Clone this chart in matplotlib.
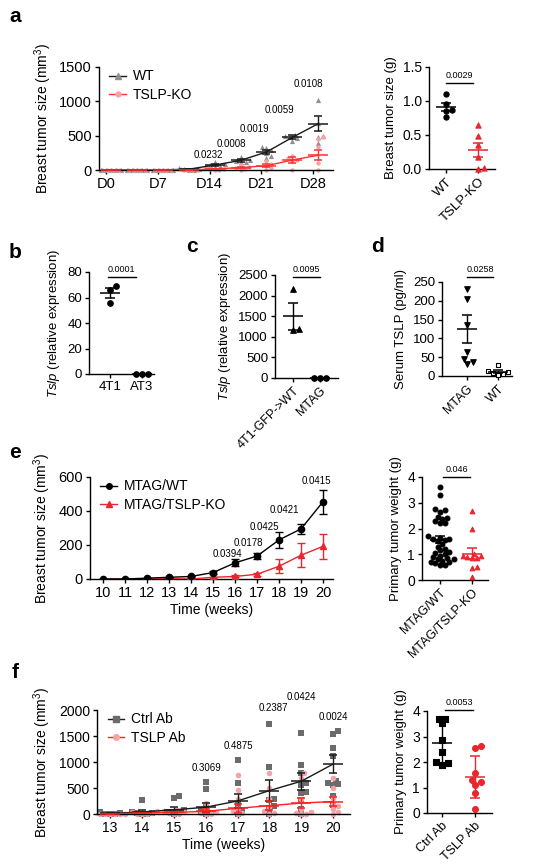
import numpy as np
import matplotlib.pyplot as plt
from matplotlib.lines import Line2D

plt.rcParams['font.family'] = ['Liberation Sans', 'DejaVu Sans']
plt.rcParams['mathtext.fontset'] = 'custom'
plt.rcParams['mathtext.rm'] = 'Liberation Sans'
plt.rcParams['mathtext.it'] = 'Liberation Sans:italic'
plt.rcParams['axes.linewidth'] = 1.0

W, H = 542, 866

### data
# a - tumor growth (measured every 3.5 days)
a_ticklabels = ['D0', 'D7', 'D14', 'D21', 'D28']
a_wt_mean = [0, 0, 2, 12, 72, 140, 262, 475, 675]
a_wt_err = [0, 0, 1, 5, 15, 18, 35, 30, 105]
a_ko_mean = [0, 0, 0, 2, 15, 35, 62, 145, 215]
a_ko_err = [0, 0, 0, 1, 6, 10, 20, 45, 70]
a_wt_pts = [[0, 0, 0, 0, 0], [0, 0, 0, 0, 0], [5, 0, 0, 0, 0],
            [25, 15, 10, 5, 0], [110, 85, 70, 55, 40], [185, 150, 130, 115, 110],
            [335, 320, 290, 250, 200, 180], [515, 500, 480, 460, 420],
            [1025, 680, 500, 480, 400]]
a_ko_pts = [[0, 0, 0, 0, 0], [0, 0, 0, 0, 0], [0, 0, 0, 0, 0],
            [10, 0, 0, 0, 0], [40, 20, 10, 5, 0], [70, 50, 30, 20, 5],
            [130, 90, 60, 30, 0], [210, 170, 150, 130, 0],
            [480, 450, 330, 100, 0]]
a_pvals = ['0.0232', '0.0008', '0.0019', '0.0059', '0.0108']
a_pval_x = [3.94, 4.86, 5.75, 6.7, 7.8]
a_pval_y = [218, 377, 590, 871, 1248]

# a right - tumor weight
a2_groups = ['WT', 'TSLP-KO']
a2_wt = [1.10, 0.95, 0.87, 0.86, 0.77]
a2_ko = [0.65, 0.48, 0.35, 0.18, 0.02, 0.0]
a2_p = '0.0029'

# b
b_groups = ['4T1', 'AT3']
b_4t1 = [68.8, 66.2, 55.3]
b_at3 = [0, 0, 0]
b_p = '0.0001'

# c
c_groups = ['4T1-GFP->WT', 'MTAG']
c_gfp = [2160, 1185, 1165]
c_mtag = [0, 0, 0]
c_p = '0.0095'

# d
d_groups = ['MTAG', 'WT']
d_mtag = [232, 205, 135, 64, 46, 37, 33]
d_mtag_mean, d_mtag_err = 125, 38
d_wt = [30, 12, 10, 8, 6, 3]
d_p = '0.0258'

# e - MTAG growth
e_weeks = np.arange(10, 21)
e_wt_mean = [0, 0, 5, 10, 15, 38, 95, 135, 230, 295, 455]
e_wt_err = [2, 2, 3, 4, 5, 8, 20, 20, 45, 30, 70]
e_ko_mean = [0, 0, 0, 2, 0, 10, 15, 28, 75, 140, 192]
e_ko_err = [1, 1, 1, 2, 2, 4, 6, 8, 40, 70, 75]
e_pvals = ['0.0394', '0.0178', '0.0425', '0.0421', '0.0415']
e_pval_x = [15.65, 16.6, 17.35, 18.25, 19.7]
e_pval_y = [146, 213, 307, 408, 576]

# e right
e2_groups = ['MTAG/WT', 'MTAG/TSLP-KO']
e2_wt = [3.6, 3.3, 2.75, 2.7, 2.65, 2.45, 2.4, 2.35, 2.3, 2.2, 2.2, 1.7, 1.65,
         1.6, 1.6, 1.55, 1.5, 1.4, 1.3, 1.2, 1.15, 1.1, 1.05, 1.0, 0.95, 0.9,
         0.85, 0.8, 0.8, 0.75, 0.7, 0.7, 0.65, 0.6, 0.6]
e2_ko = [2.67, 2.0, 1.0, 0.95, 0.92, 0.9, 0.85, 0.85, 0.52, 0.45, 0.1]
e2_p = '0.046'

# f - antibody treatment
f_weeks = np.arange(13, 21)
f_ctrl_mean = [10, 40, 80, 130, 250, 450, 630, 960]
f_ctrl_err = [5, 30, 50, 90, 130, 200, 160, 170]
f_ab_mean = [0, 20, 30, 50, 110, 160, 210, 240]
f_ab_err = [0, 10, 15, 40, 90, 90, 90, 80]
f_ctrl_pts = [[30, 10, 5, 0, 0], [270, 40, 20, 10, 0, 0], [340, 310, 80, 30, 20, 0],
              [610, 480, 130, 50, 20, 0], [1040, 600, 200, 100, 50, 0],
              [1730, 900, 280, 260, 150, 100, 0],
              [1560, 940, 790, 590, 550, 430, 400, 260, 100, 0],
              [1590, 1540, 1270, 1120, 640, 600, 570, 560, 350, 170]]
f_ab_pts = [[0, 0, 0, 0, 0, 0], [60, 30, 10, 0, 0, 0], [80, 60, 30, 10, 0, 0],
            [210, 90, 40, 20, 0, 0], [750, 470, 280, 120, 60, 20, 0],
            [790, 500, 280, 130, 60, 20, 0], [780, 700, 290, 100, 40, 10, 0, 0],
            [700, 500, 310, 200, 150, 90, 30, 0]]
f_pvals = ['0.3069', '0.4875', '0.2387', '0.0424', '0.0024']
f_pval_x = [16.03, 17.02, 18.12, 19.0, 20.0]
f_pval_y = [891, 1314, 2045, 2256, 1859]

# f right
f2_groups = ['Ctrl Ab', 'TSLP Ab']
f2_ctrl = [3.7, 3.7, 3.51, 2.88, 2.4, 2.01, 1.95, 1.88]
f2_ab = [2.62, 2.53, 1.58, 1.28, 1.21, 1.1, 0.78, 0.17]
f2_p = '0.0053'

RED = '#e8262e'
PINK = '#f4a3a8'
GRAY = '#6b6b6b'


fig = plt.figure(figsize=(W / 100, H / 100), dpi=100)


def px_axes(x0, y0, x1, y1):
    ax = fig.add_axes([x0 / W, 1 - y1 / H, (x1 - x0) / W, (y1 - y0) / H])
    ax.spines['top'].set_visible(False)
    ax.spines['right'].set_visible(False)
    ax.tick_params(direction='out', length=3, width=1, pad=2)
    return ax


def swarm(ax, x0, vals, d):
    # simple beeswarm: shift points sideways (pixels) so markers don't overlap
    vals = np.asarray(vals, float)
    pts = ax.transData.transform(np.column_stack([np.full(len(vals), x0), vals]))
    placed = []
    out = np.zeros(len(vals))
    for i in np.argsort(vals):
        px, py = pts[i]
        for k in range(0, 40):
            off = ((k + 1) // 2) * (d * 0.55) * (1 if k % 2 else -1) if k else 0
            if all((px + off - qx) ** 2 + (py - qy) ** 2 >= (d * 0.95) ** 2 for qx, qy in placed):
                break
        placed.append((px + off, py))
        out[i] = off
    xs = ax.transData.inverted().transform(np.column_stack([pts[:, 0] + out, pts[:, 1]]))[:, 0]
    return xs


def dots(ax, x0, vals, marker, color, size, d, face=None, mean=None, err=None, sd=False):
    xs = swarm(ax, x0, vals, d)
    ax.scatter(xs, vals, marker=marker, s=size, facecolor=face if face else color,
               edgecolor=color, linewidths=0.8, zorder=3, clip_on=False)
    v = np.asarray(vals, float)
    m = v.mean() if mean is None else mean
    if err is None:
        err = v.std(ddof=1) if sd else v.std(ddof=1) / np.sqrt(len(v))
    ax.errorbar(x0, m, yerr=err, fmt='_', markersize=15, mew=1.1, color=color,
                ecolor=color, elinewidth=1, capsize=3.5, capthick=1, zorder=4)


def sig(ax, x0, x1, y, text, fs=6.5):
    ax.plot([x0, x1], [y, y], color='black', lw=1, clip_on=False)
    ax.annotate(text, ((x0 + x1) / 2, y), xytext=(0, 2), textcoords='offset points',
                ha='center', va='bottom', fontsize=fs, annotation_clip=False)


def cat_axis(ax, labels, rot=45, fs=9.5):
    ax.set_xticks(range(len(labels)))
    if rot:
        ax.set_xticklabels(labels, rotation=rot, ha='right', rotation_mode='anchor', fontsize=fs)
    else:
        ax.set_xticklabels(labels, fontsize=fs)


def growth(ax, x, pts, mean, err, marker, pcolor, lcolor, size, d):
    for xi, p in zip(x, pts):
        xs = swarm(ax, xi, p, d)
        ax.scatter(xs, p, marker=marker, s=size, color=pcolor, linewidths=0, zorder=2, clip_on=False)
    ax.plot(x, mean, color=lcolor, lw=1, zorder=4)
    ax.errorbar(x, mean, yerr=err, fmt='_', markersize=14, mew=1.1, color=lcolor,
                ecolor=lcolor, elinewidth=1, capsize=3, capthick=1, zorder=5)


def panel_label(x, y, s):
    fig.text(x / W, 1 - y / H, s, fontsize=15, fontweight='bold', ha='center', va='center')


#### a
ax = px_axes(99, 67, 333, 170)
ax.set_xlim(-0.27, 8.77)
ax.set_ylim(0, 1500)
ax.set_yticks([0, 500, 1000, 1500])
ax.set_xticks(range(0, 9, 2))
ax.set_xticklabels(a_ticklabels)
ax.tick_params(labelsize=10.5)
xa = np.arange(9) + 0.2
growth(ax, xa, a_wt_pts, a_wt_mean, a_wt_err, '^', '#8f8f8f', '#1a1a1a', 14, 4.5)
growth(ax, xa, a_ko_pts, a_ko_mean, a_ko_err, 'o', PINK, '#ff3030', 10, 4)
for t, px, py in zip(a_pvals, a_pval_x, a_pval_y):
    ax.text(px, py, t, ha='center', va='center', fontsize=7, clip_on=False)
ax.set_ylabel('Breast tumor size (mm$^3$)', fontsize=10)
h = [Line2D([], [], color='#1a1a1a', lw=1, marker='^', mfc='#8f8f8f', mec='#8f8f8f', ms=4),
     Line2D([], [], color='#ff3030', lw=1, marker='o', mfc=PINK, mec=PINK, ms=3.5)]
ax.legend(h, ['WT', 'TSLP-KO'], loc='upper left', bbox_to_anchor=(0.02, 1.03), frameon=False,
          fontsize=10, handlelength=1.2, handletextpad=0.5, labelspacing=0.35, borderaxespad=0)
panel_label(15, 17, 'a')

ax = px_axes(429, 67, 495, 169)
ax.set_xlim(-0.53, 1.53)
ax.set_ylim(0, 1.5)
ax.set_yticks([0, 0.5, 1.0, 1.5])
ax.set_yticklabels(['0.0', '0.5', '1.0', '1.5'])
ax.tick_params(labelsize=10)
cat_axis(ax, a2_groups, fs=9.5)
dots(ax, 0, a2_wt, 'o', 'black', 14, 5.5)
dots(ax, 1, a2_ko, '^', RED, 14, 5.5)
sig(ax, 0, 0.85, 1.27, a2_p)
ax.set_ylabel('Breast tumor size (g)', fontsize=9.5)

#### b
ax = px_axes(89, 272, 154, 374)
ax.set_xlim(-0.66, 1.38)
ax.set_ylim(0, 80)
ax.set_yticks(range(0, 81, 20))
ax.tick_params(labelsize=9.5)
cat_axis(ax, b_groups, rot=0, fs=9.5)
dots(ax, 0, b_4t1, 'o', 'black', 16, 5.5)
dots(ax, 1, b_at3, 'o', 'black', 16, 5.5)
sig(ax, -0.06, 0.8, 76, b_p)
ax.set_ylabel('$\\mathit{Tslp}$ (relative expression)', fontsize=9.5)
panel_label(15, 252, 'b')

#### c
ax = px_axes(275, 275, 338, 378)
ax.set_xlim(-0.67, 1.67)
ax.set_ylim(0, 2500)
ax.set_yticks(range(0, 2501, 500))
ax.tick_params(labelsize=9.5)
cat_axis(ax, c_groups, fs=9)
dots(ax, 0, c_gfp, '^', 'black', 16, 5.5)
dots(ax, 1, c_mtag, 'o', 'black', 16, 5.5)
sig(ax, 0, 1, 2450, c_p)
ax.set_ylabel('$\\mathit{Tslp}$ (relative expression)', fontsize=9.5)
panel_label(192, 247, 'c')

#### d
ax = px_axes(442, 282, 512, 376)
ax.set_xlim(-0.8, 1.45)
ax.set_ylim(0, 250)
ax.set_yticks(range(0, 251, 50))
ax.tick_params(labelsize=9.5)
cat_axis(ax, d_groups, fs=9)
dots(ax, 0, d_mtag, 'v', 'black', 16, 5.5, mean=d_mtag_mean, err=d_mtag_err)
dots(ax, 1, d_wt, 's', 'black', 12, 4.5, face='white')
sig(ax, 0, 0.85, 263, d_p)
ax.set_ylabel('Serum TSLP (pg/ml)', fontsize=9.5)
panel_label(377, 247, 'd')

#### e
ax = px_axes(90, 477, 333, 579)
ax.set_xlim(9.41, 20.45)
ax.set_ylim(0, 600)
ax.set_yticks([0, 200, 400, 600])
ax.set_xticks(e_weeks)
ax.tick_params(labelsize=10.5)
ax.errorbar(e_weeks, e_wt_mean, yerr=e_wt_err, color='black', marker='o', ms=4.5,
            lw=1, elinewidth=1, capsize=3, capthick=1, zorder=4, label='MTAG/WT')
ax.errorbar(e_weeks, e_ko_mean, yerr=e_ko_err, color=RED, marker='^', ms=4.5,
            lw=1, elinewidth=1, capsize=3, capthick=1, zorder=3, label='MTAG/TSLP-KO')
for t, px, py in zip(e_pvals, e_pval_x, e_pval_y):
    ax.text(px, py, t, ha='center', va='center', fontsize=7, clip_on=False)
ax.set_ylabel('Breast tumor size (mm$^3$)', fontsize=10)
ax.set_xlabel('Time (weeks)', fontsize=10, labelpad=2)
h = [Line2D([], [], color='black', lw=1, marker='o', ms=4),
     Line2D([], [], color=RED, lw=1, marker='^', ms=4)]
ax.legend(h, ['MTAG/WT', 'MTAG/TSLP-KO'], loc='upper left', bbox_to_anchor=(0.02, 1.03),
          frameon=False, fontsize=10, handlelength=1.2, handletextpad=0.5,
          labelspacing=0.35, borderaxespad=0)
panel_label(15, 453, 'e')

ax = px_axes(422, 477, 488, 580)
ax.set_xlim(-0.56, 1.5)
ax.set_ylim(0, 4)
ax.set_yticks(range(5))
ax.tick_params(labelsize=10)
cat_axis(ax, e2_groups, fs=9)
dots(ax, 0, e2_wt, 'o', 'black', 12, 4.2)
dots(ax, 1, e2_ko, '^', RED, 11, 4.2)
sig(ax, 0.1, 0.95, 4.0, e2_p)
ax.set_ylabel('Primary tumor weight (g)', fontsize=9.5)

#### f
ax = px_axes(97, 710, 350, 814)
ax.set_xlim(12.59, 20.53)
ax.set_ylim(0, 2000)
ax.set_yticks(range(0, 2001, 500))
ax.set_xticks(f_weeks)
ax.tick_params(labelsize=10)
growth(ax, f_weeks, f_ctrl_pts, f_ctrl_mean, f_ctrl_err, 's', GRAY, '#1a1a1a', 14, 4.5)
growth(ax, f_weeks, f_ab_pts, f_ab_mean, f_ab_err, 'o', PINK, '#ff2020', 16, 4.5)
for t, px, py in zip(f_pvals, f_pval_x, f_pval_y):
    ax.text(px, py, t, ha='center', va='center', fontsize=7, clip_on=False)
ax.set_ylabel('Breast tumor size (mm$^3$)', fontsize=10)
ax.set_xlabel('Time (weeks)', fontsize=10, labelpad=2)
h = [Line2D([], [], color='#1a1a1a', lw=1, marker='s', mfc=GRAY, mec=GRAY, ms=4),
     Line2D([], [], color='#ff2020', lw=1, marker='o', mfc=PINK, mec=PINK, ms=4)]
ax.legend(h, ['Ctrl Ab', 'TSLP Ab'], loc='upper left', bbox_to_anchor=(0.02, 1.03),
          frameon=False, fontsize=10, handlelength=1.2, handletextpad=0.5,
          labelspacing=0.35, borderaxespad=0)
panel_label(15, 672, 'f')

ax = px_axes(427, 711, 492, 813)
ax.set_xlim(-0.45, 1.52)
ax.set_ylim(0, 4)
ax.set_yticks(range(5))
ax.tick_params(labelsize=10)
cat_axis(ax, f2_groups, fs=9)
dots(ax, 0, f2_ctrl, 's', 'black', 16, 5.5, sd=True)
dots(ax, 1, f2_ab, 'o', RED, 18, 5.5, sd=True)
sig(ax, 0.1, 0.95, 4.05, f2_p)
ax.set_ylabel('Primary tumor weight (g)', fontsize=9.5)

fig.savefig('out.png', dpi=100)
